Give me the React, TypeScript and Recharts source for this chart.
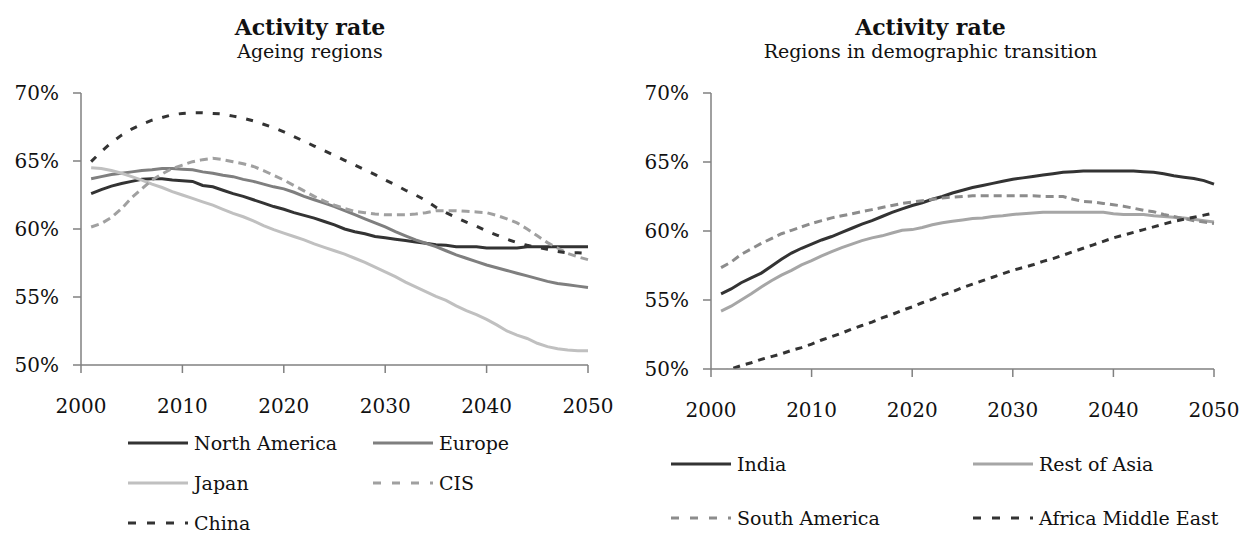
import { Legend, Line, LineChart, XAxis, YAxis } from "recharts";

const years = [
  2001, 2002, 2003, 2004, 2005, 2006, 2007, 2008, 2009, 2010,
  2011, 2012, 2013, 2014, 2015, 2016, 2017, 2018, 2019, 2020,
  2021, 2022, 2023, 2024, 2025, 2026, 2027, 2028, 2029, 2030,
  2031, 2032, 2033, 2034, 2035, 2036, 2037, 2038, 2039, 2040,
  2041, 2042, 2043, 2044, 2045, 2046, 2047, 2048, 2049, 2050,
];

// Ageing regions (%)
const northAmerica = [
  62.6, 62.9, 63.15, 63.35, 63.5, 63.65, 63.7, 63.7, 63.6, 63.55,
  63.5, 63.2, 63.1, 62.85, 62.6, 62.4, 62.15, 61.9, 61.65, 61.45,
  61.2, 61.0, 60.8, 60.55, 60.3, 60.0, 59.8, 59.65, 59.45, 59.35,
  59.25, 59.15, 59.05, 58.95, 58.85, 58.8, 58.7, 58.7, 58.7, 58.6,
  58.6, 58.6, 58.6, 58.7, 58.7, 58.7, 58.7, 58.7, 58.7, 58.7,
];
const europe = [
  63.7, 63.85, 64.0, 64.1, 64.2, 64.3, 64.35, 64.45, 64.45, 64.4,
  64.35, 64.2, 64.1, 63.95, 63.85, 63.65, 63.5, 63.3, 63.1, 62.95,
  62.7, 62.4, 62.15, 61.9, 61.65, 61.35, 61.05, 60.75, 60.45, 60.15,
  59.8, 59.5, 59.2, 58.95, 58.7, 58.4, 58.1, 57.85, 57.6, 57.35,
  57.15, 56.95, 56.75, 56.55, 56.35, 56.15, 56.0, 55.9, 55.8, 55.7,
];
const japan = [
  64.5, 64.45, 64.3, 64.1, 63.85, 63.6, 63.3, 63.05, 62.75, 62.5,
  62.25, 62.0, 61.75, 61.45, 61.15, 60.9, 60.6, 60.25, 59.95, 59.7,
  59.45, 59.2, 58.9, 58.65, 58.4, 58.15, 57.85, 57.55, 57.2, 56.85,
  56.5, 56.1, 55.75, 55.4, 55.05, 54.75, 54.35, 54.0, 53.7, 53.35,
  52.95, 52.5, 52.2, 51.95, 51.6, 51.35, 51.2, 51.1, 51.05, 51.05,
];
const cis = [
  60.15, 60.4, 60.85, 61.5, 62.3, 62.95, 63.6, 64.05, 64.45, 64.7,
  64.95, 65.1, 65.2, 65.1, 64.95, 64.8, 64.6, 64.3, 63.95, 63.6,
  63.2, 62.8, 62.4, 62.05, 61.75, 61.5, 61.3, 61.2, 61.1, 61.05,
  61.05, 61.05, 61.1, 61.2, 61.35, 61.35, 61.35, 61.3, 61.25, 61.2,
  61.0, 60.75, 60.45, 60.0, 59.5, 59.0, 58.6, 58.2, 57.95, 57.75,
];
const china = [
  64.95, 65.7, 66.35, 66.9, 67.35, 67.7, 68.0, 68.2, 68.4, 68.5,
  68.55, 68.55, 68.5, 68.45, 68.3, 68.15, 67.95, 67.7, 67.45, 67.15,
  66.8, 66.45, 66.1, 65.75, 65.4, 65.05, 64.7, 64.35, 64.0, 63.6,
  63.25, 62.85, 62.5, 62.1, 61.6, 61.2, 60.85, 60.5, 60.2, 59.85,
  59.55, 59.25, 59.0, 58.8, 58.65, 58.5, 58.35, 58.25, 58.25, 58.2,
];

// Regions in demographic transition (%)
const india = [
  55.45, 55.8, 56.25, 56.6, 56.95, 57.45, 57.95, 58.4, 58.75, 59.05,
  59.35, 59.6, 59.9, 60.2, 60.5, 60.75, 61.05, 61.35, 61.6, 61.85,
  62.05, 62.3, 62.5, 62.75, 62.95, 63.15, 63.3, 63.45, 63.6, 63.75,
  63.85, 63.95, 64.05, 64.15, 64.25, 64.3, 64.35, 64.35, 64.35, 64.35,
  64.35, 64.35, 64.3, 64.25, 64.15, 64.0, 63.9, 63.8, 63.65, 63.4,
];
const restOfAsia = [
  54.2, 54.55, 55.0, 55.45, 55.95, 56.4, 56.8, 57.15, 57.55, 57.85,
  58.2, 58.5, 58.8, 59.05, 59.3, 59.5, 59.65, 59.85, 60.05, 60.1,
  60.25, 60.45, 60.6, 60.7, 60.8, 60.9, 60.95, 61.05, 61.1, 61.2,
  61.25, 61.3, 61.35, 61.35, 61.35, 61.35, 61.35, 61.35, 61.35, 61.25,
  61.2, 61.2, 61.2, 61.1, 61.05, 61.0, 60.95, 60.85, 60.75, 60.65,
];
const southAmerica = [
  57.35, 57.75, 58.3, 58.7, 59.1, 59.45, 59.8, 60.05, 60.3, 60.55,
  60.75, 60.95, 61.1, 61.25, 61.4, 61.55, 61.7, 61.85, 62.0, 62.1,
  62.2, 62.3, 62.4, 62.45, 62.5, 62.55, 62.55, 62.55, 62.55, 62.55,
  62.55, 62.55, 62.5, 62.5, 62.5, 62.3, 62.15, 62.1, 62.0, 61.9,
  61.8, 61.65, 61.5, 61.4, 61.2, 61.05, 60.9, 60.75, 60.65, 60.55,
];
const africaMiddleEast = [
  49.75, 50.0, 50.25, 50.45, 50.7, 50.9, 51.1, 51.35, 51.55, 51.8,
  52.1, 52.35, 52.6, 52.9, 53.15, 53.4, 53.7, 53.95, 54.25, 54.5,
  54.8, 55.05, 55.35, 55.6, 55.9, 56.15, 56.4, 56.65, 56.9, 57.15,
  57.35, 57.55, 57.8, 58.0, 58.25, 58.5, 58.75, 59.0, 59.25, 59.5,
  59.7, 59.9, 60.1, 60.3, 60.5, 60.7, 60.85, 61.0, 61.15, 61.3,
];

const xTicks = [2000, 2010, 2020, 2030, 2040, 2050];
const yTicks = [50, 55, 60, 65, 70];

const FONT = "'DejaVu Serif', serif";

type Series = {
  key: string;
  name: string;
  values: number[];
  color: string;
  dash?: string;
  legendDash?: string;
};

const ageingSeries: Series[] = [
  { key: "na", name: "North America", values: northAmerica, color: "#333333" },
  { key: "eu", name: "Europe", values: europe, color: "#7f7f7f" },
  { key: "jp", name: "Japan", values: japan, color: "#c0c0c0" },
  { key: "cis", name: "CIS", values: cis, color: "#a0a0a0", dash: "8 5", legendDash: "8 11" },
  { key: "cn", name: "China", values: china, color: "#333333", dash: "7 10", legendDash: "8 11" },
];

const transitionSeries: Series[] = [
  { key: "in", name: "India", values: india, color: "#333333" },
  { key: "ra", name: "Rest of Asia", values: restOfAsia, color: "#a6a6a6" },
  { key: "sa", name: "South America", values: southAmerica, color: "#8c8c8c", dash: "8 5", legendDash: "8 11" },
  { key: "ame", name: "Africa Middle East", values: africaMiddleEast, color: "#333333", dash: "7 6", legendDash: "8 11" },
];

function buildRows(series: Series[]) {
  return years.map((year, i) => {
    const row: Record<string, number> = { year };
    series.forEach((s) => {
      row[s.key] = s.values[i];
    });
    return row;
  });
}

type LegendPos = { x: number; y: number };

function makeLegend(series: Series[], positions: LegendPos[]) {
  return () => (
    <div style={{ position: "relative", width: 0, height: 0 }}>
      {series.map((s, i) => (
        <div
          key={s.key}
          style={{
            position: "absolute",
            left: positions[i].x,
            top: positions[i].y - 12,
            height: 24,
            display: "flex",
            alignItems: "center",
            whiteSpace: "nowrap",
            fontFamily: FONT,
            fontSize: 19,
            color: "#111",
          }}
        >
          <svg width={62} height={24} style={{ marginRight: 4 }}>
            <line
              x1={0}
              y1={12}
              x2={60}
              y2={12}
              stroke={s.color}
              strokeWidth={3}
              strokeDasharray={s.legendDash}
            />
          </svg>
          {s.name}
        </div>
      ))}
    </div>
  );
}

type PanelProps = {
  left: number;
  width: number;
  yAxisWidth: number;
  rightMargin: number;
  bottomMargin: number;
  title: string;
  subtitle: string;
  series: Series[];
  legendPos: LegendPos[];
};

function Panel(p: PanelProps) {
  const rows = buildRows(p.series);
  const tickStyle = { fill: "#111", fontSize: 20, fontFamily: FONT };
  return (
    <div style={{ position: "absolute", left: p.left, top: 0, width: p.width, height: 533 }}>
      <div
        style={{
          position: "absolute",
          left: 0,
          width: p.width,
          top: 16,
          textAlign: "center",
          fontFamily: FONT,
          fontWeight: "bold",
          fontSize: 22,
          lineHeight: "22px",
          color: "#111",
        }}
      >
        {p.title}
      </div>
      <div
        style={{
          position: "absolute",
          left: 0,
          width: p.width,
          top: 42,
          textAlign: "center",
          fontFamily: FONT,
          fontSize: 19,
          lineHeight: "19px",
          color: "#111",
        }}
      >
        {p.subtitle}
      </div>
      <div style={{ position: "absolute", left: 0, top: 0 }}>
        <LineChart
          width={p.width}
          height={533}
          data={rows}
          margin={{ top: 93, right: p.rightMargin, bottom: p.bottomMargin, left: 0 }}
        >
          <XAxis
            dataKey="year"
            type="number"
            domain={[2000, 2050]}
            ticks={xTicks}
            interval={0}
            tickSize={8}
            tickMargin={26}
            height={40}
            tick={tickStyle}
            axisLine={{ stroke: "#808080", strokeWidth: 1.5 }}
            tickLine={{ stroke: "#808080", strokeWidth: 1.5 }}
          />
          <YAxis
            type="number"
            domain={[50, 70]}
            ticks={yTicks}
            interval={0}
            allowDataOverflow
            width={p.yAxisWidth}
            tickSize={8}
            tickMargin={14}
            tick={tickStyle}
            tickFormatter={(v: number) => `${v}%`}
            axisLine={{ stroke: "#808080", strokeWidth: 1.5 }}
            tickLine={{ stroke: "#808080", strokeWidth: 1.5 }}
          />
          <Legend
            layout="horizontal"
            verticalAlign="middle"
            align="center"
            wrapperStyle={{ left: 0, top: 0, width: 0, height: 0 }}
            content={makeLegend(p.series, p.legendPos)}
          />
          {p.series.map((s) => (
            <Line
              key={s.key}
              dataKey={s.key}
              name={s.name}
              type="linear"
              stroke={s.color}
              strokeWidth={3}
              strokeDasharray={s.dash}
              dot={false}
              activeDot={false}
              isAnimationActive={false}
            />
          ))}
        </LineChart>
      </div>
    </div>
  );
}

function App() {
  return (
    <div
      style={{
        position: "absolute",
        left: 0,
        top: 0,
        width: 1241,
        height: 533,
        background: "#fff",
        overflow: "hidden",
      }}
    >
      <Panel
        left={0}
        width={620}
        yAxisWidth={81}
        rightMargin={32}
        bottomMargin={128}
        title="Activity rate"
        subtitle="Ageing regions"
        series={ageingSeries}
        legendPos={[
          { x: 128, y: 443 },
          { x: 373, y: 443 },
          { x: 128, y: 483 },
          { x: 373, y: 483 },
          { x: 128, y: 523 },
        ]}
      />
      <Panel
        left={620}
        width={621}
        yAxisWidth={91}
        rightMargin={27}
        bottomMargin={124}
        title="Activity rate"
        subtitle="Regions in demographic transition"
        series={transitionSeries}
        legendPos={[
          { x: 51, y: 464 },
          { x: 353, y: 464 },
          { x: 51, y: 518 },
          { x: 353, y: 518 },
        ]}
      />
    </div>
  );
}

export default App;
